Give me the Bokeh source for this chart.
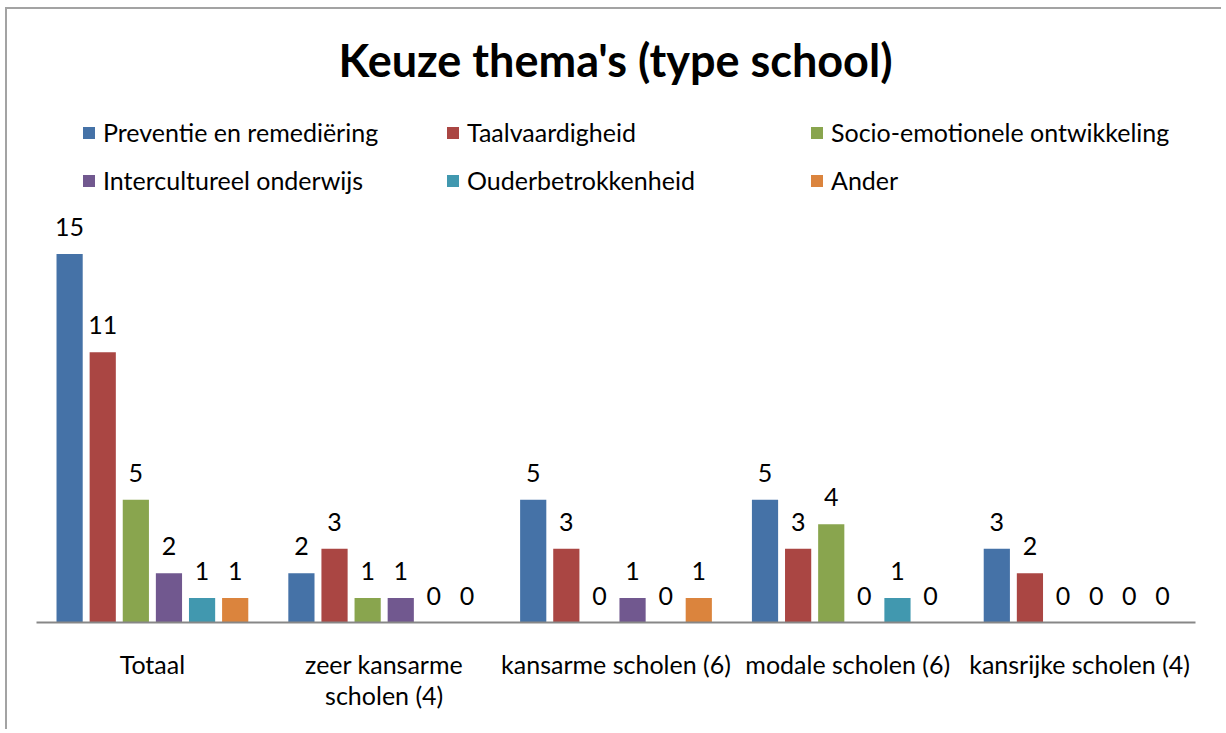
from bokeh.plotting import figure
from bokeh.models import ColumnDataSource, FactorRange, Range1d, Legend, LegendItem, Label
from bokeh.transform import dodge
from bokeh.core.properties import value
from bokeh.embed import file_html
from bokeh.resources import INLINE

categories = ["Totaal", "zeer kansarme\nscholen (4)", "kansarme scholen (6)",
              "modale scholen (6)", "kansrijke scholen (4)"]
series_names = ["Preventie en remediëring", "Taalvaardigheid", "Socio-emotionele ontwikkeling",
                "Intercultureel onderwijs", "Ouderbetrokkenheid", "Ander"]
preventie = [15, 2, 5, 5, 3]
taal = [11, 3, 3, 3, 2]
socio = [5, 1, 0, 4, 0]
intercultureel = [2, 1, 1, 0, 0]
ouder = [1, 0, 0, 1, 0]
ander = [1, 0, 1, 0, 0]
colors = ["#4572A7", "#AA4643", "#89A54E", "#71588F", "#4198AF", "#DB843D"]

series_values = [preventie, taal, socio, intercultureel, ouder, ander]
keys = ["s0", "s1", "s2", "s3", "s4", "s5"]

data = {"cat": categories}
for k, v in zip(keys, series_values):
    data[k] = v
    data[k + "_lbl"] = [str(x) for x in v]
source = ColumnDataSource(data)

FONT = "Lato"
FS = "25px"

p = figure(x_range=FactorRange(factors=categories), y_range=Range1d(0, 24.95),
           width=1216, height=722, output_backend="svg", toolbar_location=None,
           min_border_left=29, min_border_right=28, min_border_top=0, min_border_bottom=109,
           y_axis_location=None, tools="",
           styles={"margin-left": "5px", "margin-top": "7px",
                   "border-left": "2px solid #a3a3a3", "border-top": "2px solid #a3a3a3"})
p.outline_line_color = None
p.xgrid.grid_line_color = None
p.ygrid.grid_line_color = None
p.background_fill_color = "white"
p.border_fill_color = "white"

slot = 1.0 / 7
items = []
for i, (k, name, c) in enumerate(zip(keys, series_names, colors)):
    off = (i - 2.5) * slot
    r = p.vbar(x=dodge("cat", off, range=p.x_range), top=k, width=0.113, source=source,
               fill_color=c, line_color=None)
    p.text(x=dodge("cat", off, range=p.x_range), y=k, text=k + "_lbl", source=source,
           text_align="center", text_baseline="alphabetic", y_offset=-27,
           text_font=value(FONT), text_font_size=FS, text_color="black")
    items.append(LegendItem(label=name, renderers=[r]))

ax = p.xaxis[0]
ax.axis_line_color = "#878787"
ax.axis_line_width = 2
ax.major_tick_line_color = None
ax.minor_tick_line_color = None
ax.major_label_text_font = FONT
ax.major_label_text_font_size = FS
ax.major_label_text_color = "black"
ax.major_label_standoff = 20
ax.major_label_text_line_height = 1.05

legend = Legend(items=items, orientation="horizontal", ncols=3,
                location=(45, 418), margin=0, padding=0, spacing=0,
                glyph_width=15, glyph_height=15, label_standoff=7, label_width=342,
                label_height=48,
                label_text_font=FONT, label_text_font_size=FS, label_text_color="black",
                border_line_color=None, background_fill_alpha=0)
p.add_layout(legend, "center")

title = Label(x=579, y=563, x_units="screen", y_units="screen",
              text="Keuze thema's (type school)", text_align="center",
              text_baseline="alphabetic", text_font=FONT, text_font_size="45px",
              text_font_style="bold", text_color="black")
p.add_layout(title)

open("out.html", "w").write(file_html(p, INLINE))
